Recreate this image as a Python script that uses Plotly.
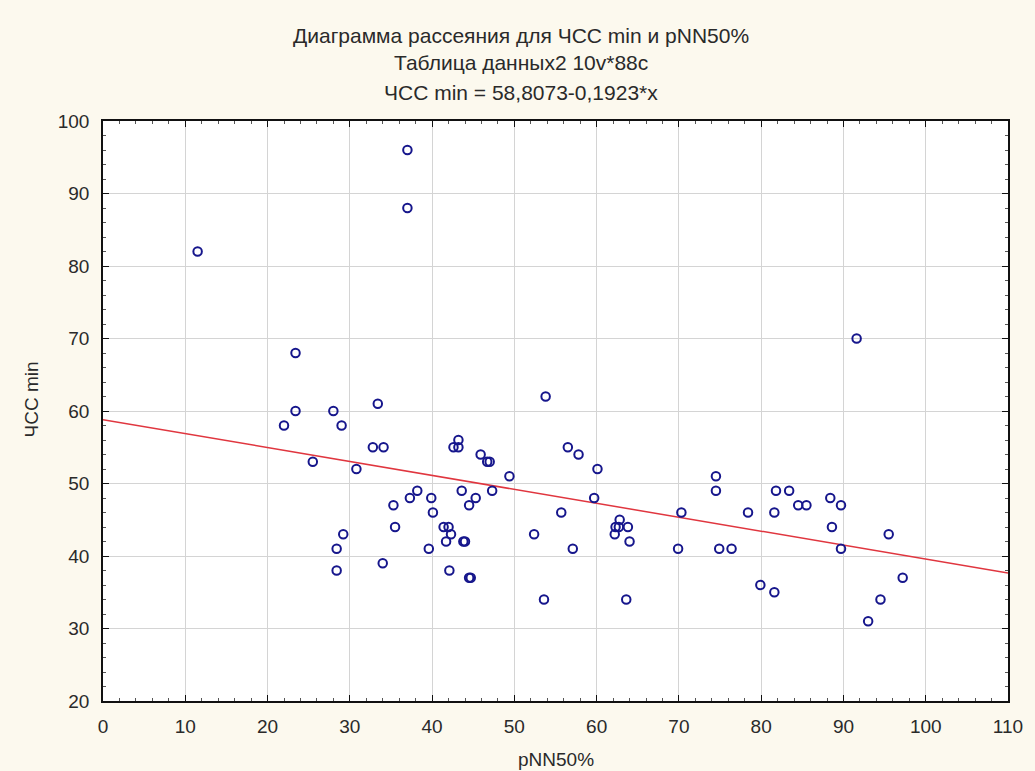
import plotly.graph_objects as go

# pNN50% (x) and minimum heart rate (y) per subject
pnn50 = [11.5, 22.0, 23.4, 23.4, 25.5, 28.0, 29.0, 28.4, 28.4, 29.2,
         30.8, 32.8, 34.1, 33.4, 34.0, 35.3, 35.5, 37.0, 37.0, 37.3,
         38.2, 39.6, 39.9, 40.1, 41.4, 42.0, 41.7, 42.1, 42.3, 42.6,
         43.2, 43.2, 43.6, 43.8, 44.0, 44.5, 44.5, 44.7, 45.3, 45.9,
         46.7, 47.0, 47.3, 49.4, 52.4, 53.6, 53.8, 55.7, 56.5, 57.1,
         57.8, 59.7, 60.1, 62.2, 62.3, 62.8, 62.7, 63.8, 63.6, 64.0,
         69.9, 70.3, 74.5, 74.5, 74.9, 76.4, 78.4, 79.9, 81.6, 81.6,
         81.8, 83.4, 84.5, 85.5, 88.4, 88.6, 89.7, 89.7, 91.6, 93.0,
         94.5, 95.5, 97.2]
hr_min = [82, 58, 68, 60, 53, 60, 58, 41, 38, 43,
          52, 55, 55, 61, 39, 47, 44, 96, 88, 48,
          49, 41, 48, 46, 44, 44, 42, 38, 43, 55,
          55, 56, 49, 42, 42, 47, 37, 37, 48, 54,
          53, 53, 49, 51, 43, 34, 62, 46, 55, 41,
          54, 48, 52, 43, 44, 45, 44, 44, 34, 42,
          41, 46, 51, 49, 41, 41, 46, 36, 46, 35,
          49, 49, 47, 47, 48, 44, 47, 41, 70, 31,
          34, 43, 37]

# Linear fit: ЧСС min = 58,8073 - 0,1923*x
intercept = 58.8073
slope = -0.1923
fit_x = [0, 110]
fit_y = [intercept + slope * v for v in fit_x]

x_ticks = list(range(0, 111, 10))
y_ticks = list(range(20, 101, 10))

FONT = "Liberation Sans, Arial, sans-serif"
TEXT = "#2a2a2a"

fig = go.Figure()
fig.add_trace(go.Scatter(
    x=fit_x, y=fit_y, mode="lines",
    line=dict(color="#e0363f", width=1.5),
    hoverinfo="skip", showlegend=False,
))
fig.add_trace(go.Scatter(
    x=pnn50, y=hr_min, mode="markers",
    marker=dict(symbol="circle-open", size=8.5, color="#16168c",
                line=dict(width=2, color="#16168c")),
    showlegend=False,
))

axis_common = dict(
    showline=True, linecolor="#111111", linewidth=1.5, mirror="allticks",
    ticks="inside", ticklen=6, tickwidth=1, tickcolor="#111111",
    showgrid=True, gridcolor="#d4d4d4", gridwidth=1, zeroline=False,
    tickfont=dict(family=FONT, size=19, color=TEXT),
)

fig.update_xaxes(
    range=[0, 110], tickmode="array", tickvals=x_ticks,
    ticktext=[str(v) for v in x_ticks],
    minor=dict(dtick=2, ticks="inside", ticklen=3, tickcolor="#555555", showgrid=False),
    ticklabelstandoff=7,
    **axis_common,
)
fig.update_yaxes(
    range=[20, 100], tickmode="array", tickvals=y_ticks,
    ticktext=[str(v) for v in y_ticks],
    minor=dict(dtick=2, ticks="inside", ticklen=3, tickcolor="#555555", showgrid=False),
    ticklabelstandoff=8,
    **axis_common,
)

title_lines = [
    ("Диаграмма рассеяния для ЧСС min и pNN50%", 1.147),
    ("Таблица данных2 10v*88c", 1.100),
    ("ЧСС min = 58,8073-0,1923*x", 1.049),
]
annotations = [
    dict(text=t, x=0.4617, y=yy, xref="paper", yref="paper",
         showarrow=False, xanchor="center", yanchor="middle",
         font=dict(family=FONT, size=21, color=TEXT))
    for t, yy in title_lines
]
annotations.append(dict(
    text="ЧСС min", x=-0.079, y=0.519, xref="paper", yref="paper",
    showarrow=False, textangle=-90, xanchor="center", yanchor="middle",
    font=dict(family=FONT, size=19, color=TEXT)))
annotations.append(dict(
    text="pNN50%", x=0.5, y=-0.1, xref="paper", yref="paper",
    showarrow=False, xanchor="center", yanchor="middle",
    font=dict(family=FONT, size=19, color=TEXT)))

fig.update_layout(
    width=1035, height=771,
    margin=dict(l=103, r=19, t=121, b=70),
    paper_bgcolor="#fcf9ee", plot_bgcolor="#ffffff",
    annotations=annotations,
    showlegend=False,
)

fig.write_html("out.html")
